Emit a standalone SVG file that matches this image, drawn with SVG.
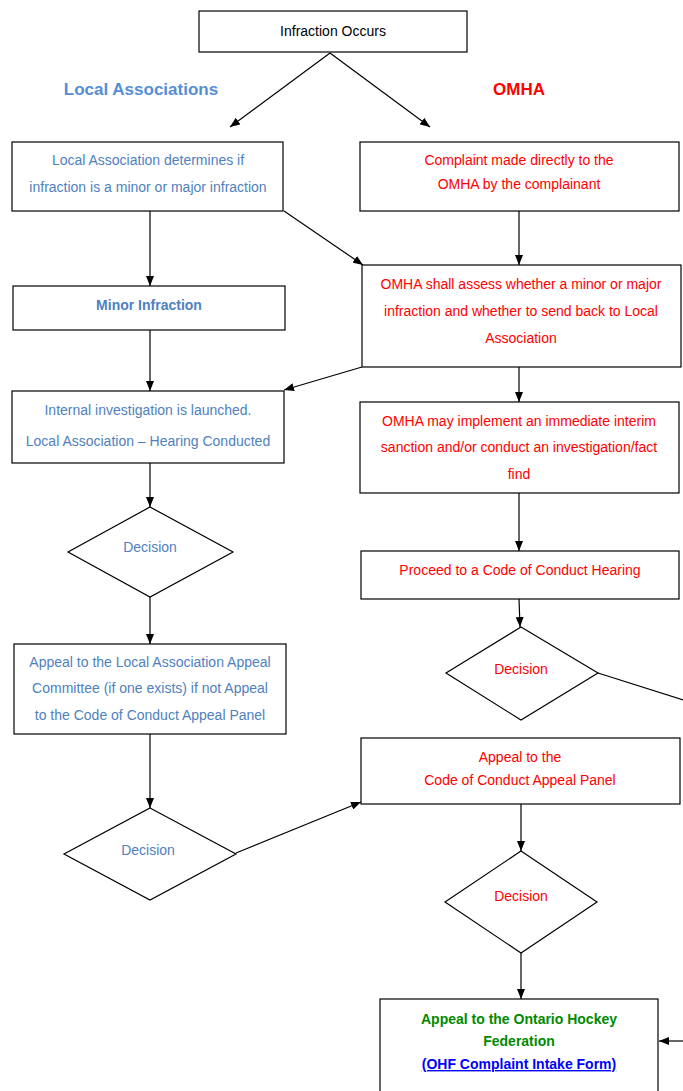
<svg xmlns="http://www.w3.org/2000/svg" width="683" height="1091" viewBox="0 0 683 1091">
<defs>
<marker id="ah" markerWidth="10" markerHeight="8" refX="10" refY="4" orient="auto" markerUnits="userSpaceOnUse">
<path d="M0,0 L10,4 L0,8 z" fill="#000"/>
</marker>
<style>
.box{fill:#fff;stroke:#000;stroke-width:1.2}
.t{font-family:"Liberation Sans",Arial,sans-serif;font-size:14px;text-anchor:middle}
.blue{fill:#4f81bd}
.red{fill:#ff0000}
.blk{fill:#000}
.b{font-weight:bold}
.green{fill:#008a00;font-weight:bold}
.link{fill:#0000ff;font-weight:bold;text-decoration:underline}
.hd{font-family:"Liberation Sans",Arial,sans-serif;font-size:17px;font-weight:bold;text-anchor:middle}
.c{stroke:#000;stroke-width:1.2;fill:none;marker-end:url(#ah)}
.cn{stroke:#000;stroke-width:1.2;fill:none}
</style>
</defs>
<rect width="683" height="1091" fill="#fff"/>

<g id="connectors">
<line class="c" x1="330" y1="53" x2="230" y2="127"/>
<line class="c" x1="330" y1="53" x2="430" y2="127"/>
<line class="c" x1="150" y1="211" x2="150" y2="286"/>
<line class="c" x1="284" y1="211" x2="363" y2="265"/>
<line class="c" x1="519" y1="211" x2="519" y2="265"/>
<line class="c" x1="150" y1="330" x2="150" y2="391"/>
<line class="c" x1="362" y1="367" x2="284" y2="390"/>
<line class="c" x1="519" y1="367" x2="519" y2="402"/>
<line class="c" x1="150" y1="463" x2="150" y2="507"/>
<line class="c" x1="519" y1="493" x2="519" y2="551"/>
<line class="c" x1="150" y1="597" x2="150" y2="644"/>
<line class="c" x1="519" y1="599" x2="520" y2="627"/>
<line class="cn" x1="598" y1="673" x2="690" y2="702"/>
<line class="c" x1="150" y1="734" x2="150" y2="808"/>
<line class="c" x1="236" y1="853" x2="361" y2="802"/>
<line class="c" x1="521" y1="804" x2="521" y2="851"/>
<line class="c" x1="521" y1="953" x2="521" y2="999"/>
<line class="c" x1="690" y1="1041" x2="659" y2="1041"/>
</g>

<g id="heading-local"><text class="hd" x="141" y="95" fill="#558ed5">Local Associations</text></g>
<g id="heading-omha"><text class="hd" x="519" y="95" fill="#ff0000">OMHA</text></g>

<g id="infraction-occurs">
<rect class="box" x="199" y="11" width="268" height="41"/>
<text class="t blk" x="333" y="36">Infraction Occurs</text>
</g>

<g id="local-determines">
<rect class="box" x="12" y="142" width="271" height="69"/>
<text class="t blue" x="148" y="165">Local Association determines if</text>
<text class="t blue" x="148" y="192">infraction is a minor or major infraction</text>
</g>

<g id="complaint-omha">
<rect class="box" x="360" y="142" width="319" height="69"/>
<text class="t red" x="519" y="165">Complaint made directly to the</text>
<text class="t red" x="519" y="189">OMHA by the complainant</text>
</g>

<g id="minor-infraction">
<rect class="box" x="13" y="286" width="272" height="44"/>
<text class="t blue b" x="149" y="310">Minor Infraction</text>
</g>

<g id="omha-assess">
<rect class="box" x="362" y="265" width="319" height="102"/>
<text class="t red" x="521" y="289">OMHA shall assess whether a minor or major</text>
<text class="t red" x="521" y="316">infraction and whether to send back to Local</text>
<text class="t red" x="521" y="343">Association</text>
</g>

<g id="internal-investigation">
<rect class="box" x="12" y="391" width="272" height="72"/>
<text class="t blue" x="148" y="415">Internal investigation is launched.</text>
<text class="t blue" x="148" y="446">Local Association – Hearing Conducted</text>
</g>

<g id="omha-interim">
<rect class="box" x="360" y="402" width="319" height="91"/>
<text class="t red" x="519" y="426">OMHA may implement an immediate interim</text>
<text class="t red" x="519" y="452">sanction and/or conduct an investigation/fact</text>
<text class="t red" x="519" y="479">find</text>
</g>

<g id="decision-local-1">
<polygon class="box" points="150,507 233,552 150,597 68,552"/>
<text class="t blue" x="150" y="552">Decision</text>
</g>

<g id="code-hearing">
<rect class="box" x="361" y="551" width="318" height="48"/>
<text class="t red" x="520" y="575">Proceed to a Code of Conduct Hearing</text>
</g>

<g id="decision-omha-1">
<polygon class="box" points="521,627 598,673 521,720 446,673"/>
<text class="t red" x="521" y="674">Decision</text>
</g>

<g id="local-appeal">
<rect class="box" x="14" y="644" width="272" height="90"/>
<text class="t blue" x="150" y="667">Appeal to the Local Association Appeal</text>
<text class="t blue" x="150" y="693">Committee (if one exists) if not Appeal</text>
<text class="t blue" x="150" y="720">to the Code of Conduct Appeal Panel</text>
</g>

<g id="code-appeal">
<rect class="box" x="361" y="738" width="319" height="66"/>
<text class="t red" x="520" y="762">Appeal to the</text>
<text class="t red" x="520" y="785">Code of Conduct Appeal Panel</text>
</g>

<g id="decision-local-2">
<polygon class="box" points="150,808 236,854 150,900 64,854"/>
<text class="t blue" x="148" y="855">Decision</text>
</g>

<g id="decision-omha-2">
<polygon class="box" points="521,851 597,902 521,953 445,902"/>
<text class="t red" x="521" y="901">Decision</text>
</g>

<g id="ohf-appeal">
<rect class="box" x="380" y="999" width="278" height="120"/>
<text class="t green" x="519" y="1024">Appeal to the Ontario Hockey</text>
<text class="t green" x="519" y="1046">Federation</text>
<text class="t link" x="519" y="1069">(OHF Complaint Intake Form)</text>
</g>
</svg>
